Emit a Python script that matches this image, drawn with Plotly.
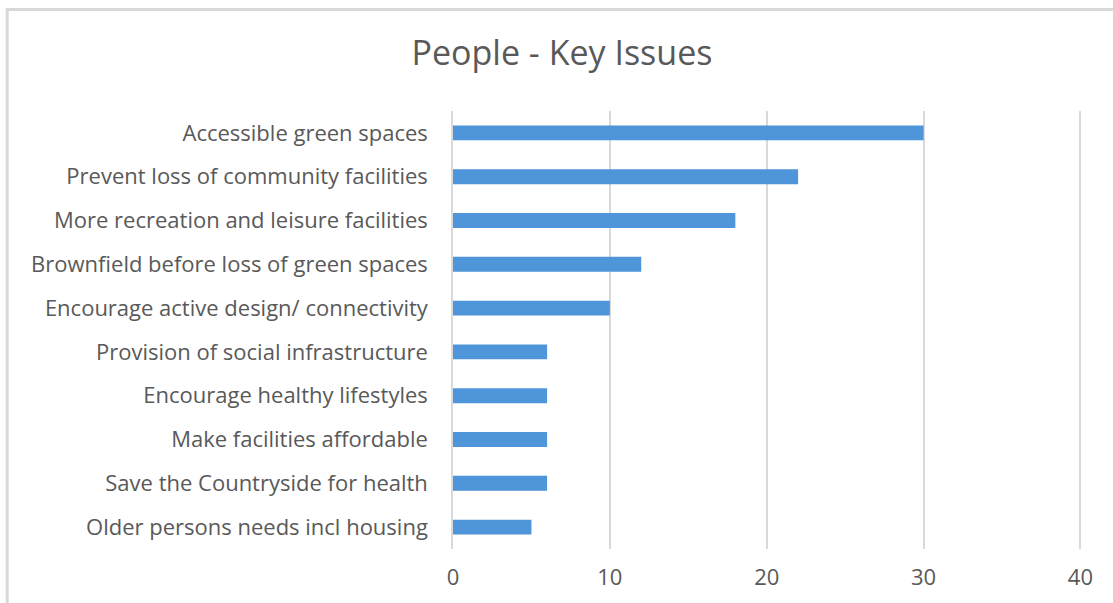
import plotly.graph_objects as go

# Responses per issue, listed top to bottom
issues = [
    "Accessible green spaces",
    "Prevent loss of community facilities",
    "More recreation and leisure facilities",
    "Brownfield before loss of green spaces",
    "Encourage active design/ connectivity",
    "Provision of social infrastructure",
    "Encourage healthy lifestyles",
    "Make facilities affordable",
    "Save the Countryside for health",
    "Older persons needs incl housing",
]
counts = [30, 22, 18, 12, 10, 6, 6, 6, 6, 5]
x_ticks = [0, 10, 20, 30, 40]

W, H = 1113, 603
X_MAX = 40.1                      # a hair past 40 so the last gridline shows
UNIT = (1080 - 453) / 40          # pixels per count
L, T, B = 453, 111, 54
plot_w = UNIT * X_MAX
R = W - L - plot_w
plot_h = H - T - B

FONT = "Open Sans, Lato, Roboto, sans-serif"
GREY_TEXT = "#595959"
GRID = "#d9d9d9"
BAR = "#4e95d9"

fig = go.Figure(
    go.Bar(
        x=counts,
        y=issues,
        orientation="h",
        marker=dict(color=BAR, line=dict(width=0)),
        width=0.34,
        hoverinfo="x+y",
    )
)

def px_x(v):
    return (v - L) / plot_w

def px_y(v):
    return (H - B - v) / plot_h

# outer chart frame (light grey border)
fig.add_shape(
    type="rect", xref="paper", yref="paper",
    x0=px_x(7.5), x1=px_x(1125), y0=px_y(9.5), y1=px_y(640),
    line=dict(color=GRID, width=3), fillcolor="rgba(0,0,0,0)", layer="below",
)

fig.update_layout(
    width=W, height=H,
    margin=dict(l=L, r=R, t=T, b=B),
    paper_bgcolor="white",
    plot_bgcolor="white",
    showlegend=False,
    title=dict(
        text="People - Key Issues",
        x=562 / W, xanchor="center",
        y=1 - 53 / H, yanchor="middle",
        font=dict(family=FONT, size=34, color=GREY_TEXT),
    ),
    xaxis=dict(
        range=[0, X_MAX],
        tickvals=x_ticks,
        showgrid=True, gridcolor=GRID, gridwidth=1.5,
        zeroline=False,
        showline=False,
        ticks="",
        tickfont=dict(family=FONT, size=22, color=GREY_TEXT),
        ticklabelstandoff=13,
        fixedrange=True,
    ),
    yaxis=dict(
        autorange="reversed",
        showgrid=False,
        showline=True, linecolor=GRID, linewidth=1.5,
        ticks="",
        tickfont=dict(family=FONT, size=22, color=GREY_TEXT),
        ticklabelstandoff=19,
        fixedrange=True,
    ),
)

fig.write_html("out.html")
